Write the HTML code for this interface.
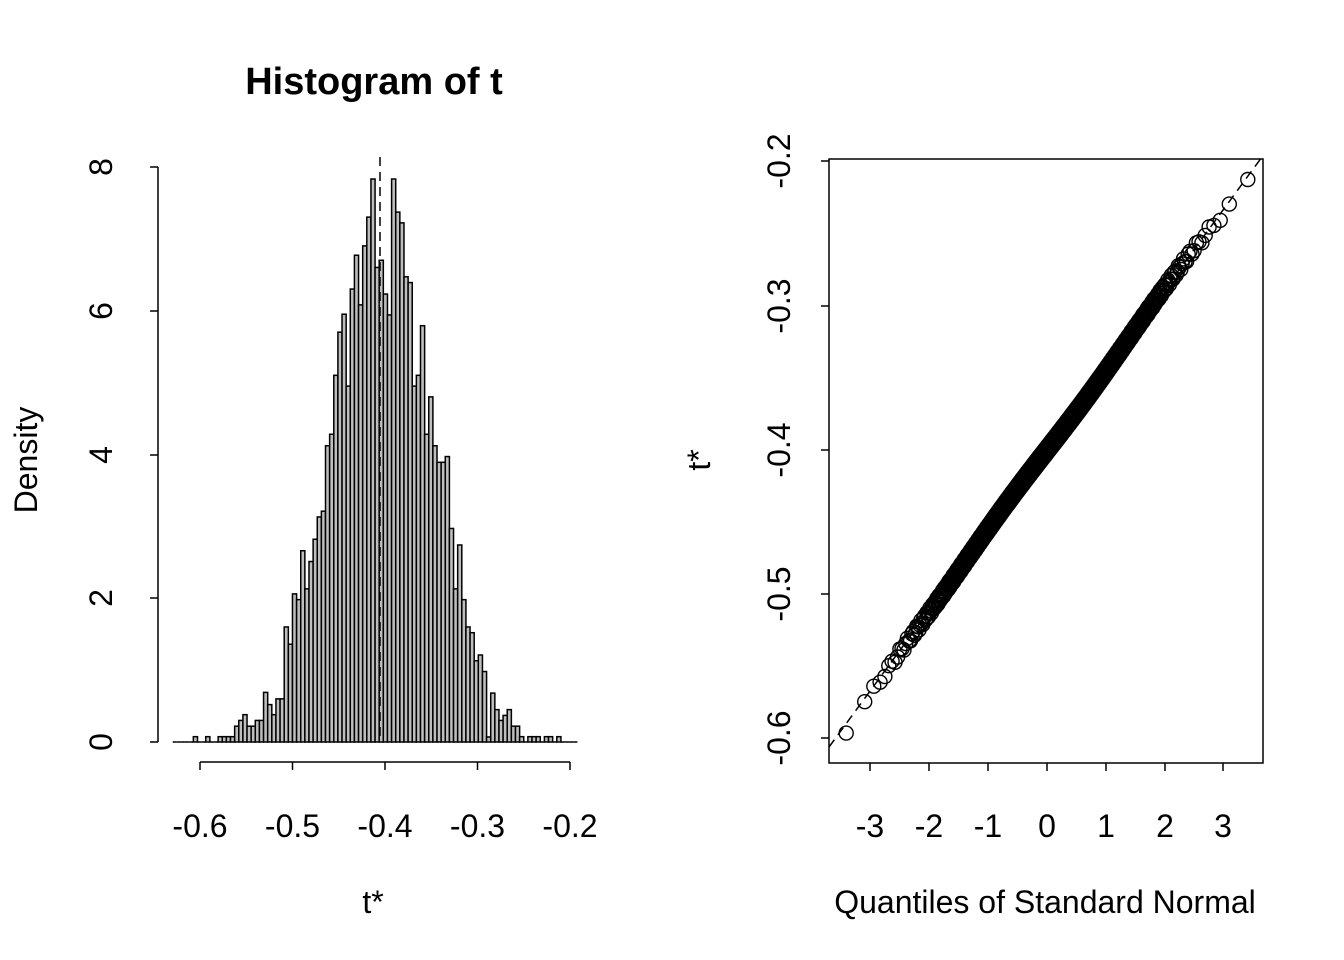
<!DOCTYPE html>
<html><head><meta charset="utf-8"><style>
html,body{margin:0;padding:0;background:#fff;}
svg{display:block;font-family:"Liberation Sans",Arial,sans-serif;}
</style></head><body>
<svg id="s" width="1344" height="960" viewBox="0 0 1344 960" xmlns="http://www.w3.org/2000/svg">
<defs><clipPath id="c"><rect x="829" y="159" width="434" height="604"/></clipPath></defs>
<text x="374" y="94" font-size="38" font-weight="bold" text-anchor="middle">Histogram of t</text>
<g id="hist"></g>
<line x1="380" y1="157" x2="380" y2="742" stroke="#000" stroke-width="1.5" stroke-dasharray="9,6"/>
<g stroke="#000" stroke-width="1.5">
<line x1="158" y1="167" x2="158" y2="742"/>
<line x1="150" y1="742" x2="158" y2="742"/><line x1="150" y1="598" x2="158" y2="598"/>
<line x1="150" y1="455" x2="158" y2="455"/><line x1="150" y1="311" x2="158" y2="311"/>
<line x1="150" y1="167" x2="158" y2="167"/>
<line x1="200" y1="762" x2="570" y2="762"/>
<line x1="200" y1="762" x2="200" y2="770"/><line x1="292.5" y1="762" x2="292.5" y2="770"/>
<line x1="385" y1="762" x2="385" y2="770"/><line x1="477.5" y1="762" x2="477.5" y2="770"/>
<line x1="570" y1="762" x2="570" y2="770"/>
</g>
<g font-size="32" text-anchor="middle">
<text transform="translate(112,742) rotate(-90)">0</text>
<text transform="translate(112,598) rotate(-90)">2</text>
<text transform="translate(112,455) rotate(-90)">4</text>
<text transform="translate(112,311) rotate(-90)">6</text>
<text transform="translate(112,167) rotate(-90)">8</text>
<text x="200" y="837">-0.6</text><text x="292.5" y="837">-0.5</text><text x="385" y="837">-0.4</text>
<text x="477.5" y="837">-0.3</text><text x="570" y="837">-0.2</text>
<text transform="translate(37,460) rotate(-90)">Density</text>
<text x="373" y="913">t*</text>
</g>
<rect x="829" y="159" width="434" height="604" fill="none" stroke="#000" stroke-width="1.5"/>
<g stroke="#000" stroke-width="1.5">
<line x1="821" y1="161" x2="829" y2="161"/><line x1="821" y1="306" x2="829" y2="306"/>
<line x1="821" y1="450" x2="829" y2="450"/><line x1="821" y1="594" x2="829" y2="594"/>
<line x1="821" y1="738" x2="829" y2="738"/>
<line x1="870" y1="763" x2="870" y2="771"/><line x1="929" y1="763" x2="929" y2="771"/>
<line x1="988" y1="763" x2="988" y2="771"/><line x1="1047" y1="763" x2="1047" y2="771"/>
<line x1="1106" y1="763" x2="1106" y2="771"/><line x1="1165" y1="763" x2="1165" y2="771"/>
<line x1="1223" y1="763" x2="1223" y2="771"/>
</g>
<g font-size="32" text-anchor="middle">
<text transform="translate(790,161) rotate(-90)">-0.2</text>
<text transform="translate(790,306) rotate(-90)">-0.3</text>
<text transform="translate(790,450) rotate(-90)">-0.4</text>
<text transform="translate(790,594) rotate(-90)">-0.5</text>
<text transform="translate(790,738) rotate(-90)">-0.6</text>
<text x="870" y="837">-3</text><text x="929" y="837">-2</text><text x="988" y="837">-1</text>
<text x="1047" y="837">0</text><text x="1106" y="837">1</text><text x="1165" y="837">2</text><text x="1223" y="837">3</text>
<text transform="translate(710,460) rotate(-90)">t*</text>
<text x="1045" y="913">Quantiles of Standard Normal</text>
</g>
<g clip-path="url(#c)">
<line x1="829" y1="747" x2="1270" y2="146" stroke="#000" stroke-width="1.5" stroke-dasharray="9,6"/>
<g id="pts" fill="none" stroke="#000" stroke-width="1.4"></g>
</g>
</svg>
<script>
var d=[0,0,0,0,0,0.074,0,0,0.074,0,0,0.074,0.074,0.074,0.074,0.22,0.30,0.38,0.22,0.22,0.30,0.30,0.69,0.52,0.38,0.6,0.6,
1.6,1.36,2.06,1.98,2.66,2.13,2.51,2.82,3.13,3.21,4.12,4.28,5.1,5.7,5.95,4.95,6.3,6.77,6.08,6.9,7.3,7.83,
6.6,6.7,6.23,5.94,7.83,7.37,7.22,6.47,6.39,4.95,5.1,5.79,4.28,4.8,4.12,3.89,3.89,3.97,2.97,2.13,2.74,1.98,1.6,1.52,1.13,1.21,0.98,0.07,0.68,0.45,0.3,0.37,0.45,0.22,0.22,
0.074,0,0.074,0.074,0.074,0,0.074,0.074,0,0.074,0,0,0,0];
var x0=172.7,w=4.13,h='';
for(var i=0;i<d.length;i++){var x=x0+i*w,ht=d[i]*71.9;
 if(ht>0)h+='<rect x="'+x.toFixed(2)+'" y="'+(742-ht).toFixed(2)+'" width="'+w.toFixed(2)+'" height="'+ht.toFixed(2)+'" fill="#bebebe" stroke="#000" stroke-width="1.5"/>';
 else h+='<line x1="'+x.toFixed(2)+'" y1="742" x2="'+(x+w).toFixed(2)+'" y2="742" stroke="#000" stroke-width="1.5"/>';}
document.getElementById('hist').innerHTML=h;
function qn(p){var a=[-39.6968302866538,220.946098424521,-275.928510446969,138.357751867269,-30.6647980661472,2.50662827745924],
b=[-54.4760987982241,161.585836858041,-155.698979859887,66.8013118877197,-13.2806815528857],
c=[-0.00778489400243029,-0.322396458041136,-2.40075827716184,-2.54973253934373,4.37466414146497,2.93816398269878],
e=[0.00778469570904146,0.32246712907004,2.445134137143,3.75440866190742],q,r;
if(p<0.02425){q=Math.sqrt(-2*Math.log(p));return(((((c[0]*q+c[1])*q+c[2])*q+c[3])*q+c[4])*q+c[5])/((((e[0]*q+e[1])*q+e[2])*q+e[3])*q+1);}
if(p>1-0.02425){q=Math.sqrt(-2*Math.log(1-p));return-(((((c[0]*q+c[1])*q+c[2])*q+c[3])*q+c[4])*q+c[5])/((((e[0]*q+e[1])*q+e[2])*q+e[3])*q+1);}
q=p-0.5;r=q*q;return(((((a[0]*r+a[1])*r+a[2])*r+a[3])*r+a[4])*r+a[5])*q/(((((b[0]*r+b[1])*r+b[2])*r+b[3])*r+b[4])*r+1);}
var n=1500,s='';
for(var i=1;i<=n;i++){var q=qn((i-0.5)/n),x=1047+q*59,y=450-q*59*1.363+Math.sin(i*1.7)*3.5+Math.sin(q*2.3)*2;
 if(q<-2.4)y+=(q+2.4)*(-8);
 if(q>2.4)y+=(q-2.4)*(4);
 s+='<circle cx="'+x.toFixed(1)+'" cy="'+y.toFixed(1)+'" r="7"/>';}
document.getElementById('pts').innerHTML=s;
</script>
</body></html>
